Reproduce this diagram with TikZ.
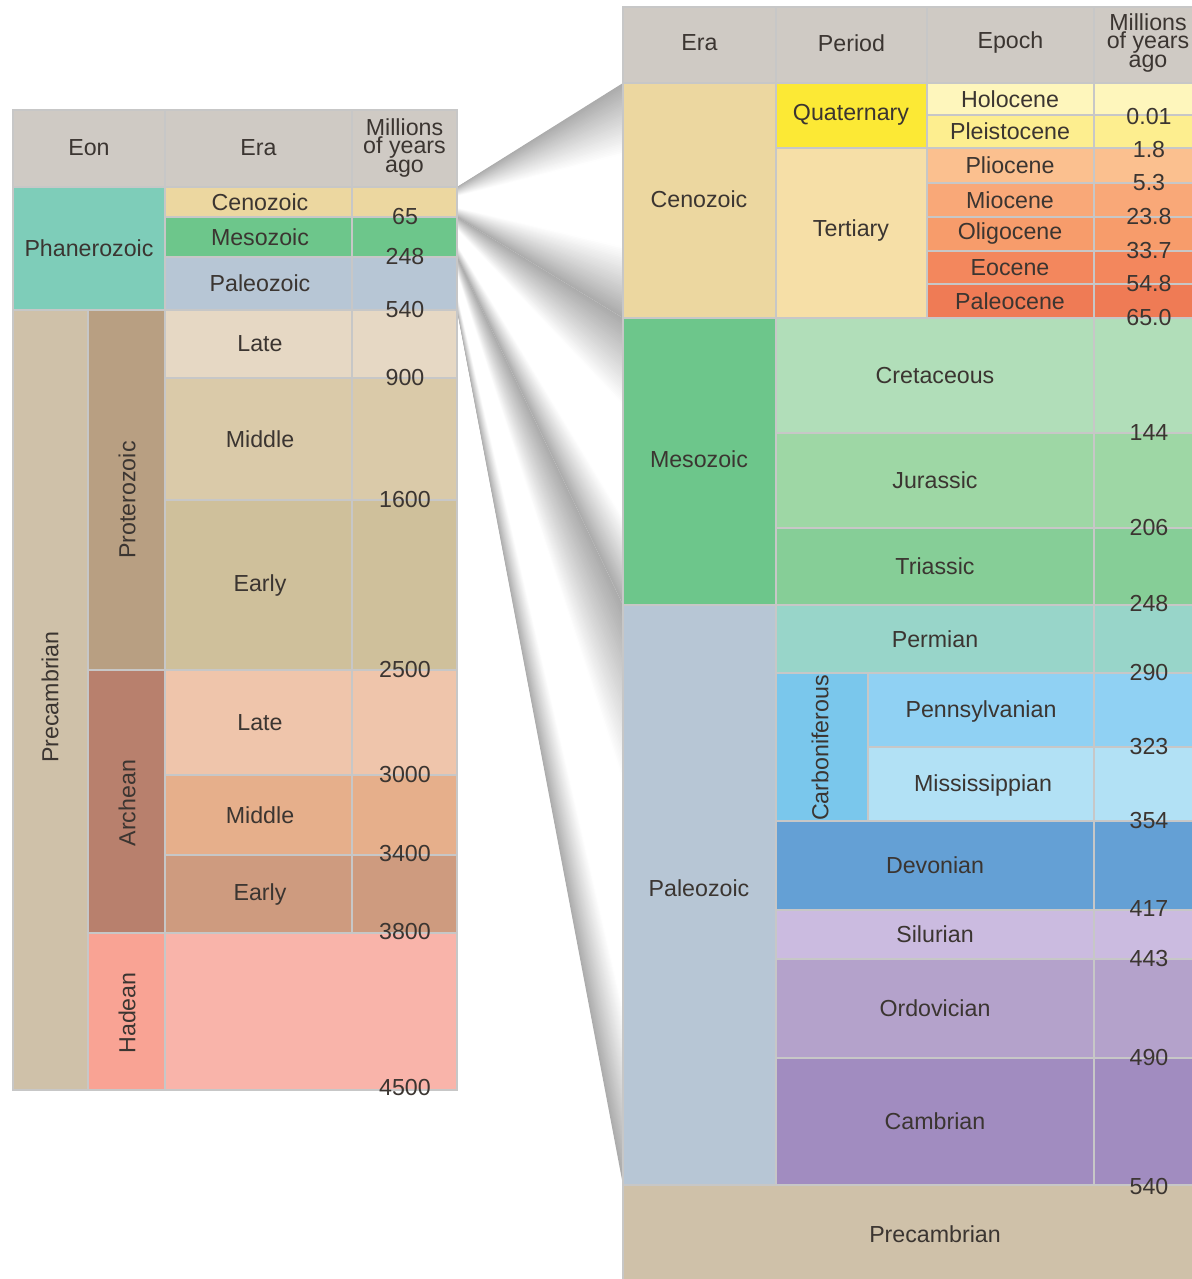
\documentclass[tikz,border=0pt]{standalone}
\usepackage{fontspec}
\setmainfont{Liberation Sans}
\usepackage{tikz}

\definecolor{txt}{HTML}{3B3531}
\definecolor{head}{HTML}{CFCAC4}
\definecolor{ceno}{HTML}{ECD7A0}
\definecolor{meso}{HTML}{6DC68B}
\definecolor{paleo}{HTML}{B7C6D5}
\definecolor{phan}{HTML}{7ECDB9}
\definecolor{precam}{HTML}{CFC1A9}
\definecolor{proto}{HTML}{B89F82}
\definecolor{plate}{HTML}{E6D8C4}
\definecolor{pmid}{HTML}{DACAA9}
\definecolor{pearly}{HTML}{CFC09B}
\definecolor{arch}{HTML}{B8806D}
\definecolor{alate}{HTML}{EFC5AB}
\definecolor{amid}{HTML}{E6AF8B}
\definecolor{aearly}{HTML}{CE9B7F}
\definecolor{hadean}{HTML}{F9A394}
\definecolor{hadarea}{HTML}{F9B4AA}
\definecolor{quat}{HTML}{FCE935}
\definecolor{tert}{HTML}{F6DFA7}
\definecolor{holo}{HTML}{FEF6BC}
\definecolor{pleis}{HTML}{FDEE8F}
\definecolor{plio}{HTML}{FBC08F}
\definecolor{mio}{HTML}{F9A878}
\definecolor{oligo}{HTML}{F79C6B}
\definecolor{eo}{HTML}{F3875D}
\definecolor{paleoc}{HTML}{EF7B55}
\definecolor{cret}{HTML}{B1DEB9}
\definecolor{jur}{HTML}{9ED7A5}
\definecolor{tri}{HTML}{86CE97}
\definecolor{perm}{HTML}{98D5C9}
\definecolor{carb}{HTML}{7AC7EC}
\definecolor{penn}{HTML}{90D1F3}
\definecolor{miss}{HTML}{B2E1F5}
\definecolor{dev}{HTML}{64A0D5}
\definecolor{sil}{HTML}{CBBBE0}
\definecolor{ord}{HTML}{B4A2CB}
\definecolor{camb}{HTML}{A18CC0}

\tikzset{
  cell/.style={draw=black!22, line width=0.6pt},
  lbl/.style={text=txt, font=\fontsize{11.6}{13}\selectfont, inner sep=0pt},
  hdr/.style={lbl, align=center, font=\fontsize{11.6}{9.3}\selectfont},
}

\begin{document}
\begin{tikzpicture}[x=0.5pt, y=-0.5pt]
    \useasboundingbox (0,0) rectangle (1192,1279);

    % fans between the two tables
    \foreach \ya/\yb/\yc/\yd in {187/217/83/318, 217/257/318/605, 257/310/605/1185} {
      \foreach \s in {0,0.008,...,0.31} {
        \pgfmathsetmacro{\g}{max(0,65-216*\s)}
        \fill[gray!\g] (457,{\ya+\s*(\yb-\ya)}) -- (623,{\yc+\s*(\yd-\yc)})
          -- (623,{\yd-\s*(\yd-\yc)}) -- (457,{\yb-\s*(\yb-\ya)}) -- cycle;
      }
    }

    % left table
    \foreach [count=\i] \xa/\xb/\txt in {13/165/Eon, 165/352/Era, 352/457/{Millions\\of years\\ago}} {
      \path[cell, fill=head] (\xa,110) rectangle (\xb,187);
      \node[hdr] (lh\i) at ({(\xa+\xb)/2},148) {\txt};
    }
    \path[cell, fill=phan] (13,187) rectangle (165,310);
    \node[lbl] (phanerozoic) at (89,248) {Phanerozoic};
    \path[cell, fill=precam] (13,310) rectangle (88,1090);
    \node[lbl, rotate=90] (precambrian) at (50,697) {Precambrian};
    \path[cell, fill=proto] (88,310) rectangle (165,670);
    \node[lbl, rotate=90] (proterozoic) at (127,500) {Proterozoic};
    \path[cell, fill=arch] (88,670) rectangle (165,933);
    \node[lbl, rotate=90] (archean) at (127,803) {Archean};
    \path[cell, fill=hadean] (88,933) rectangle (165,1090);
    \node[lbl, rotate=90] (hadeon) at (127,1013) {Hadean};
    \path[cell, fill=hadarea] (165,933) rectangle (457,1090);
    \foreach [count=\i] \ya/\yb/\c/\txt in {187/217/ceno/Cenozoic, 217/257/meso/Mesozoic,
        257/310/paleo/Paleozoic, 310/378/plate/Late, 378/500/pmid/Middle, 500/670/pearly/Early,
        670/775/alate/Late, 775/855/amid/Middle, 855/933/aearly/Early} {
      \path[cell, fill=\c] (165,\ya) rectangle (352,\yb);
      \path[cell, fill=\c] (352,\ya) rectangle (457,\yb);
      \node[lbl] (le\i) at (260,{(\ya+\yb)/2}) {\txt};
    }
    \foreach [count=\i] \v/\y in {65/217, 248/257, 540/310, 900/378, 1600/500, 2500/670,
        3000/775, 3400/854, 3800/932, 4500/1087} {
      \node[lbl] (la\i) at (405,\y) {\v};
    }

    % right table
    \foreach [count=\i] \xa/\xb/\txt in {623/776/Era, 776/927/Period, 927/1094/Epoch, 1094/1202/{Millions\\of years\\ago}} {
      \path[cell, fill=head] (\xa,7) rectangle (\xb,83);
      \node[hdr] (rh\i) at ({(\xa+\xb)/2},43) {\txt};
    }
    \path[cell, fill=ceno] (623,83) rectangle (776,318);
    \node[lbl] (cenozoic) at (699,199) {Cenozoic};
    \path[cell, fill=meso] (623,318) rectangle (776,605);
    \node[lbl] (mesozoic) at (699,459) {Mesozoic};
    \path[cell, fill=paleo] (623,605) rectangle (776,1185);
    \node[lbl] (paleozoic) at (699,888) {Paleozoic};
    \path[cell, fill=quat] (776,83) rectangle (927,148);
    \node[lbl] (quaternary) at (851,115) {Quaternary};
    \path[cell, fill=tert] (776,148) rectangle (927,318);
    \node[lbl] (tertiary) at (851,231) {Tertiary};
    \foreach [count=\i] \ya/\yb/\c/\txt in {83/115/holo/Holocene, 115/148/pleis/Pleistocene,
        148/183/plio/Pliocene, 183/217/mio/Miocene, 217/251/oligo/Oligocene,
        251/284/eo/Eocene, 284/318/paleoc/Paleocene} {
      \path[cell, fill=\c] (927,\ya) rectangle (1094,\yb);
      \path[cell, fill=\c] (1094,\ya) rectangle (1202,\yb);
      \node[lbl] (ep\i) at (1010,{(\ya+\yb)/2}) {\txt};
    }
    \foreach [count=\i] \ya/\yb/\c/\txt in {318/433/cret/Cretaceous, 433/528/jur/Jurassic,
        528/605/tri/Triassic, 605/673/perm/Permian, 821/910/dev/Devonian,
        910/959/sil/Silurian, 959/1058/ord/Ordovician, 1058/1185/camb/Cambrian} {
      \path[cell, fill=\c] (776,\ya) rectangle (1094,\yb);
      \path[cell, fill=\c] (1094,\ya) rectangle (1202,\yb);
      \node[lbl] (pe\i) at (935,{(\ya+\yb)/2}) {\txt};
    }
    \path[cell, fill=carb] (776,673) rectangle (868,821);
    \node[lbl, rotate=90] (carboniferous) at (820,748) {Carboniferous};
    \path[cell, fill=penn] (868,673) rectangle (1094,747);
    \path[cell, fill=penn] (1094,673) rectangle (1202,747);
    \node[lbl] (pennsylvanian) at (981,711) {Pennsylvanian};
    \path[cell, fill=miss] (868,747) rectangle (1094,821);
    \path[cell, fill=miss] (1094,747) rectangle (1202,821);
    \node[lbl] (mississippian) at (983,785) {Mississippian};
    \path[cell, fill=precam] (623,1185) rectangle (1202,1290);
    \node[lbl] (precamb) at (935,1234) {Precambrian};
    \foreach [count=\i] \v/\y in {0.01/117, 1.8/150, 5.3/183, 23.8/217, 33.7/251, 54.8/284,
        65.0/318, 144/433, 206/528, 248/604, 290/673, 323/747, 354/821, 417/909,
        443/959, 490/1057, 540/1186} {
      \node[lbl] (ra\i) at (1149,\y) {\v};
    }
\end{tikzpicture}
\end{document}
